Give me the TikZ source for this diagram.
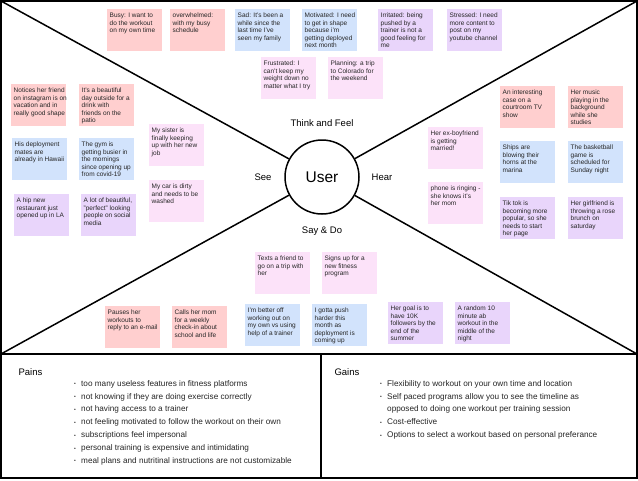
\documentclass[tikz,border=0pt]{standalone}
\usepackage{fontspec}
\setmainfont{Liberation Sans}
\definecolor{nred}{HTML}{FFCFCF}
\definecolor{nblue}{HTML}{D2E3FC}
\definecolor{npink}{HTML}{FCE2F9}
\definecolor{nlav}{HTML}{E9D5FB}
\definecolor{ntext}{HTML}{262626}
\newcommand\stick[5]{%
  \node[notebox, fill=#2] (#1) at (#3,#4) {};
  \node[notetxt] (#1t) at ([xshift=2.5pt,yshift=-4pt]#1.north west) {#5};}
\newcommand\bul{\makebox[7pt][l]{\fontsize{5}{5}\selectfont\raisebox{0.6pt}{•}}}
\tikzset{
  notebox/.style={anchor=north west, inner sep=0pt, outer sep=0pt, minimum width=55pt, minimum height=42pt},
  notetxt/.style={anchor=north west, inner sep=0pt, align=left, text=ntext, font=\fontsize{6.5}{7.5}\selectfont},
  frame/.style={line width=1.5pt, black},
  mainlbl/.style={font=\fontsize{9.5}{11}\selectfont, text=black},
  listtxt/.style={anchor=north west, inner sep=0pt, align=left, text=ntext, font=\fontsize{8.2}{12.9}\selectfont},
}
\begin{document}
\begin{tikzpicture}[x=1pt, y=-1pt]
\useasboundingbox (0,0) rectangle (638,480);
\fill[white] (0,0) rectangle (638,480);
% frame
\coordinate (tl) at (1,1);
\coordinate (tr) at (637,1);
\coordinate (ml) at (1,354);
\coordinate (mr) at (637,354);
\coordinate (bl) at (1,478);
\coordinate (br) at (637,478);
\coordinate (dm) at (321,354);
\coordinate (db) at (321,478);
\draw[frame] (tl) rectangle (br);
\draw[frame] (ml) -- (mr);
\draw[frame] (dm) -- (db);
% center
\node[circle, draw, line width=1.5pt, minimum size=74pt, inner sep=0pt, font=\fontsize{15.5}{18}\selectfont] (user) at (322,177) {User};
\draw[frame] (tl) -- (user);
\draw[frame] (tr) -- (user);
\draw[frame] (ml) -- (user);
\draw[frame] (mr) -- (user);
\node[mainlbl] (think) at (322,123) {Think and Feel};
\node[mainlbl] (see) at (263,177) {See};
\node[mainlbl] (hear) at (382,177) {Hear};
\node[mainlbl] (say) at (322,231) {Say \& Do};
% top notes
\stick{busy}{nred}{107}{9}{Busy: I want to\\do the workout\\on my own time}
\stick{over}{nred}{170}{9}{overwhelmed:\\with my busy\\schedule}
\stick{sad}{nblue}{235}{9}{Sad: It's been a\\while since the\\last time I've\\seen my family}
\stick{motiv}{nblue}{302}{9}{Motivated: I need\\to get in shape\\because i'm\\getting deployed\\next month}
\stick{irrit}{nlav}{378}{9}{Irritated: being\\pushed by a\\trainer is not a\\good feeling for\\me}
\stick{stress}{nlav}{447}{9}{Stressed: I need\\more content to\\post on my\\youtube channel}
\stick{frust}{npink}{261}{57}{Frustrated: I\\can't keep my\\weight down no\\matter what I try}
\stick{plan}{npink}{328}{57}{Planning: a trip\\to Colorado for\\the weekend}
% left notes
\stick{notices}{nred}{11}{84}{Notices her friend\\on instagram is on\\vacation and in\\really good shape}
\stick{beaut}{nred}{79}{84}{It's a beautiful\\day outside for a\\drink with\\friends on the\\patio}
\stick{hisdep}{nblue}{12}{138}{His deployment\\mates are\\already in Hawaii}
\stick{gym}{nblue}{79}{138}{The gym is\\getting busier in\\the mornings\\since opening up\\from covid-19}
\stick{hip}{nlav}{14}{194}{A hip new\\restaurant just\\opened up in LA}
\stick{alot}{nlav}{81}{194}{A lot of beautiful,\\"perfect" looking\\people on social\\media}
\stick{sister}{npink}{149}{124}{My sister is\\finally keeping\\up with her new\\job}
\stick{car}{npink}{149}{180}{My car is dirty\\and needs to be\\washed}
% right notes
\stick{interest}{nred}{500}{86}{An interesting\\case on a\\courtroom TV\\show}
\stick{music}{nred}{568}{86}{Her music\\playing in the\\background\\while she\\studies}
\stick{ex}{npink}{428}{127}{Her ex-boyfriend\\is getting\\married!}
\stick{ships}{nblue}{500}{141}{Ships are\\blowing their\\horns at the\\marina}
\stick{basket}{nblue}{568}{141}{The basketball\\game is\\scheduled for\\Sunday night}
\stick{phone}{npink}{428}{182}{phone is ringing -\\she knows it's\\her mom}
\stick{tiktok}{nlav}{500}{197}{Tik tok is\\becoming more\\popular, so she\\needs to start\\her page}
\stick{girl}{nlav}{568}{197}{Her girlfriend is\\throwing a rose\\brunch on\\saturday}
% bottom notes
\stick{texts}{npink}{255}{252}{Texts a friend to\\go on a trip with\\her}
\stick{signs}{npink}{322}{252}{Signs up for a\\new fitness\\program}
\stick{pauses}{nred}{105}{306}{Pauses her\\workouts to\\reply to an e-mail}
\stick{calls}{nred}{172}{306}{Calls her mom\\for a weekly\\check-in about\\school and life}
\stick{better}{nblue}{245}{304}{I'm better off\\working out on\\my own vs using\\help of a trainer}
\stick{gotta}{nblue}{312}{304}{I gotta push\\harder this\\month as\\deployment is\\coming up}
\stick{goal}{nlav}{388}{302}{Her goal is to\\have 10K\\followers by the\\end of the\\summer}
\stick{random}{nlav}{455}{302}{A random 10\\minute ab\\workout in the\\middle of the\\night}
% pains / gains
\node[mainlbl, anchor=west] (pains) at (15,372) {Pains};
\node[mainlbl, anchor=west] (gains) at (331,372) {Gains};
\node[listtxt] (painlist) at (74,380) {\bul too many useless features in fitness platforms\\
\bul not knowing if they are doing exercise correctly\\
\bul not having access to a trainer\\
\bul not feeling motivated to follow the workout on their own\\
\bul subscriptions feel impersonal\\
\bul personal training is expensive and intimidating\\
\bul meal plans and nutritinal instructions are not customizable};
\node[listtxt] (gainlist) at (380,380) {\bul Flexibility to workout on your own time and location\\
\bul Self paced programs allow you to see the timeline as\\
\hspace*{7pt}opposed to doing one workout per training session\\
\bul Cost-effective\\
\bul Options to select a workout based on personal preferance};
\end{tikzpicture}
\end{document}
